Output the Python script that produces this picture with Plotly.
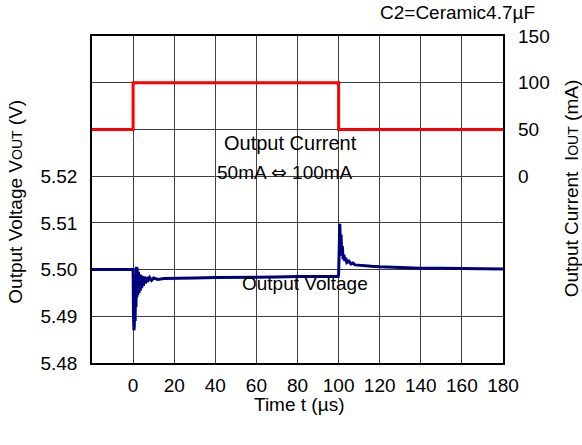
import plotly.graph_objects as go

# ---- data ----
t_current = [-20, 0, 0, 100, 100, 180]
i_current = [50, 50, 100, 100, 50, 50]

t_voltage = [-20, -10, 0, 0.2, 0.4, 0.6, 0.8, 1.0, 1.2, 1.4, 1.6, 1.8, 2.0, 2.3, 2.6, 2.9,
             3.2, 3.5, 3.8, 4.2, 4.6, 5.0, 5.5, 6, 6.5, 7, 8, 9, 10, 12, 15, 20, 30, 40,
             50, 60, 70, 80, 90, 99.8, 100, 100.3, 100.6, 100.9, 101.2, 101.5, 101.8,
             102.2, 102.6, 103, 103.5, 104, 105, 106, 107, 108, 110, 113, 116, 120, 130,
             140, 150, 160, 170, 180]
v_voltage = [5.5000, 5.5000, 5.5000, 5.4900, 5.4870, 5.4880, 5.4960, 5.4890, 5.4990, 5.4920,
             5.5006, 5.4940, 5.5004, 5.4945, 5.4995, 5.4950, 5.4990, 5.4955, 5.4988, 5.4960,
             5.4986, 5.4965, 5.4985, 5.4970, 5.4984, 5.4974, 5.4983, 5.4977, 5.4982, 5.4979,
             5.4981, 5.4981, 5.4982, 5.4983, 5.4983, 5.4984, 5.4984, 5.4985, 5.4985, 5.4985,
             5.4990, 5.5060, 5.5098, 5.5040, 5.5075, 5.5030, 5.5050, 5.5022, 5.5032, 5.5018,
             5.5025, 5.5015, 5.5018, 5.5012, 5.5014, 5.5010, 5.5009, 5.5008, 5.5007, 5.5006,
             5.5004, 5.5003, 5.5003, 5.5003, 5.5002, 5.5001]

x_ticks = [0, 20, 40, 60, 80, 100, 120, 140, 160, 180]
y_left_ticks = [5.48, 5.49, 5.50, 5.51, 5.52, 5.53, 5.54]
y_left_text = ["5.48", "5.49", "5.50", "5.51", "5.52", "", ""]
y_right_ticks = [0, 50, 100, 150]

FONT = "Liberation Sans, Arial, sans-serif"
FS = 19

fig = go.Figure()
fig.add_trace(go.Scatter(x=t_voltage, y=v_voltage, mode="lines",
                         line=dict(color="#00007f", width=3), yaxis="y", showlegend=False))
fig.add_trace(go.Scatter(x=t_current, y=i_current, mode="lines",
                         line=dict(color="#ff0000", width=3), yaxis="y2", showlegend=False))

axis_common = dict(showline=True, linecolor="black", linewidth=1.5, mirror=True,
                   gridcolor="#404040", gridwidth=1, zeroline=False,
                   tickfont=dict(family=FONT, size=FS, color="black"), ticks="")

fig.update_layout(
    width=582, height=445,
    margin=dict(l=92, r=79, t=36, b=82),
    paper_bgcolor="white", plot_bgcolor="white",
    font=dict(family=FONT, size=FS, color="black"),
    xaxis=dict(range=[-20, 180], tickvals=x_ticks, showgrid=True,
               ticklabelstandoff=4, **axis_common),
    yaxis=dict(range=[5.48, 5.55], tickvals=y_left_ticks, ticktext=y_left_text,
               showgrid=True, ticklabelstandoff=9, **axis_common),
    yaxis2=dict(range=[-200, 150], tickvals=y_right_ticks, overlaying="y", side="right",
                showgrid=False, showline=False, zeroline=False, ticks="",
                ticklabelstandoff=14,
                tickfont=dict(family=FONT, size=FS, color="black")),
)

# white boxes behind texts (between grid and traces)
fig.add_shape(type="rect", xref="paper", yref="paper", x0=0.238, x1=0.70, y0=0.522, y1=0.70,
              fillcolor="white", line=dict(width=0), layer="between")
fig.add_shape(type="rect", xref="paper", yref="paper", x0=0.304, x1=0.733, y0=0.065, y1=0.25,
              fillcolor="white", line=dict(width=0), layer="between")

small = "<span style='font-size:14px'>OUT</span>"
arrow = "<span style='font-family:DejaVu Sans'>\u21d4</span>"
ann = [
    dict(x=0.484, y=0.6725, text="Output Current", size=20),
    dict(x=0.4695, y=0.584, text="50mA " + arrow + " 100mA", size=19),
    dict(x=0.518, y=0.242, text="Output Voltage", size=19),
    dict(x=0.5036, y=-0.127, text="Time t (\u00b5s)", size=19),
    dict(x=1.0836, y=1.072, text="C2=Ceramic4.7\u00b5F", xanchor="right", size=19),
    dict(x=-0.186, y=0.492, text="Output Voltage V" + small + " (V)", textangle=-90, size=19),
    dict(x=1.166, y=0.535, text="Output Current  I" + small + " (mA)", textangle=-90, size=19),
]
for a in ann:
    size = a.pop("size")
    d = dict(xref="paper", yref="paper", showarrow=False, xanchor="center", yanchor="middle",
             font=dict(family=FONT, size=size, color="black"))
    d.update(a)
    fig.add_annotation(**d)

fig.write_html("out.html", config={"displayModeBar": False},
               post_script="document.body.style.margin='0';")
